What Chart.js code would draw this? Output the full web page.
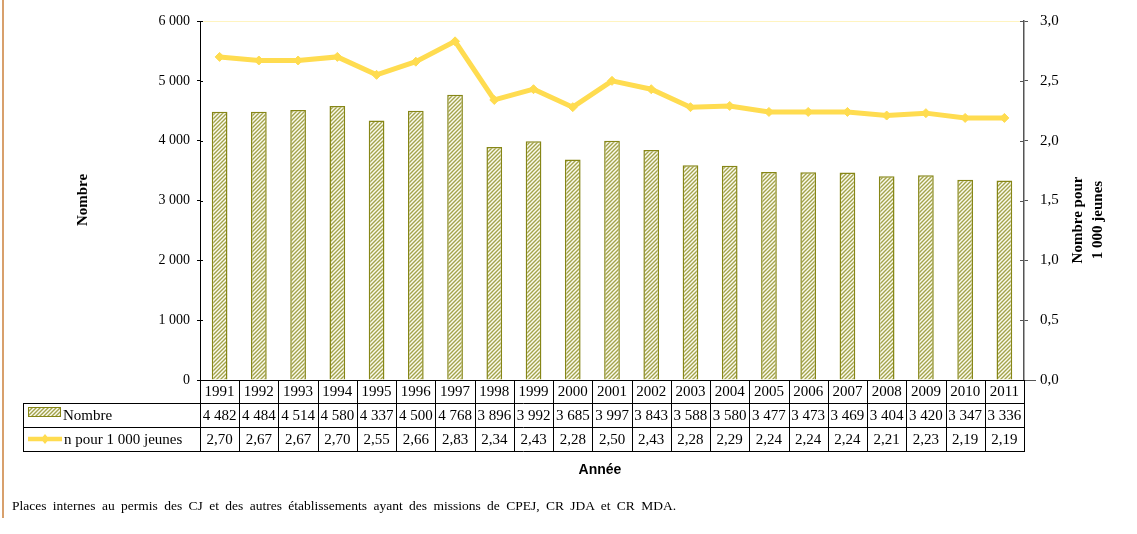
<!DOCTYPE html>
<html>
<head>
<meta charset="utf-8">
<script src="https://cdn.jsdelivr.net/npm/chart.js@4/dist/chart.umd.min.js"></script>
<style>
  body { margin: 0; background: #fff; }
  #wrap { position: relative; width: 1137px; height: 534px; }
  #edge { position: absolute; left: 2px; top: 0; width: 2px; height: 518px; background: #d8a06c; }
  #note { position: absolute; left: 12px; top: 498px; font: 13.5px "Liberation Serif", serif; word-spacing: 3px; color: #000; white-space: nowrap; }
</style>
</head>
<body>
<div id="wrap">
  <canvas id="chartPlaces"></canvas>
  <div id="edge"></div>
  <div id="note">Places internes au permis des CJ et des autres établissements  ayant des missions de CPEJ, CR JDA et CR MDA.</div>
</div>
<script>
  'use strict';

  var years = ['1991', '1992', '1993', '1994', '1995', '1996', '1997', '1998', '1999', '2000',
    '2001', '2002', '2003', '2004', '2005', '2006', '2007', '2008', '2009', '2010', '2011'];
  var nombre = [4482, 4484, 4514, 4580, 4337, 4500, 4768, 3896, 3992, 3685,
    3997, 3843, 3588, 3580, 3477, 3473, 3469, 3404, 3420, 3347, 3336];
  var taux = [2.70, 2.67, 2.67, 2.70, 2.55, 2.66, 2.83, 2.34, 2.43, 2.28,
    2.50, 2.43, 2.28, 2.29, 2.24, 2.24, 2.24, 2.21, 2.23, 2.19, 2.19];
  var labelNombre = 'Nombre';
  var labelTaux = 'n pour 1 000 jeunes';

  var OLIVE = '#868616';
  var YELLOW = '#ffdc50';
  var SERIF = '"Liberation Serif", "Times New Roman", serif';

  function fmtMille(v) {
    return String(v).replace(/\B(?=(\d{3})+(?!\d))/g, ' ');
  }
  function fmtDec(v, n) {
    return v.toFixed(n).replace('.', ',');
  }

  // hatch fill for the bars
  function makeHatch() {
    var s = 4;
    var c = document.createElement('canvas');
    c.width = s; c.height = s;
    var g = c.getContext('2d');
    g.fillStyle = '#fbfbee';
    g.fillRect(0, 0, s, s);
    g.strokeStyle = '#a3a34c';
    g.lineWidth = 1.4;
    g.beginPath();
    g.moveTo(-1, s + 1); g.lineTo(s + 1, -1);
    g.moveTo(-1, 1); g.lineTo(1, -1);
    g.moveTo(s - 1, s + 1); g.lineTo(s + 1, s - 1);
    g.stroke();
    return g.createPattern(c, 'repeat');
  }
  var hatch = makeHatch();

  var tablePlugin = {
    id: 'tablePlugin',
    afterDraw: function (chart) {
      var c = chart.ctx;
      var a = chart.chartArea;
      var x = chart.scales.x;
      var y = chart.scales.y;
      var y1 = chart.scales.y1;
      var n = years.length;
      var w = (a.right - a.left) / n;
      var r0 = a.bottom, r1 = 403, r2 = 427, r3 = 451, tl = 23;
      c.save();

      // faint top line
      c.strokeStyle = '#fff4c0';
      c.lineWidth = 1;
      c.beginPath();
      c.moveTo(a.left, a.top + 0.5); c.lineTo(a.right, a.top + 0.5);
      c.stroke();

      // inward tick parts
      c.strokeStyle = '#000';
      c.beginPath();
      y.ticks.forEach(function (t) {
        var py = Math.round(y.getPixelForValue(t.value)) + 0.5;
        c.moveTo(a.left, py); c.lineTo(a.left + 3, py);
      });
      c.stroke();
      c.strokeStyle = '#555';
      c.beginPath();
      y1.ticks.forEach(function (t) {
        var py = Math.round(y1.getPixelForValue(t.value)) + 0.5;
        c.moveTo(a.right - 4, py); c.lineTo(a.right, py);
      });
      c.moveTo(a.right, r0 + 0.5); c.lineTo(a.right + 12, r0 + 0.5);
      c.stroke();

      // table grid
      c.strokeStyle = '#000';
      c.lineWidth = 1;
      c.beginPath();
      c.moveTo(a.left, r0 + 0.5); c.lineTo(a.right, r0 + 0.5);
      [r1, r2, r3].forEach(function (ry) {
        c.moveTo(tl, ry + 0.5); c.lineTo(a.right, ry + 0.5);
      });
      c.moveTo(tl + 0.5, r1); c.lineTo(tl + 0.5, r3 + 1);
      for (var i = 0; i <= n; i++) {
        var bx = Math.round(a.left + i * w) + 0.5;
        c.moveTo(bx, r0); c.lineTo(bx, r3 + 1);
      }
      c.stroke();

      // cell texts
      c.fillStyle = '#000';
      c.font = '15px ' + SERIF;
      c.textAlign = 'center';
      c.textBaseline = 'middle';
      for (var j = 0; j < n; j++) {
        var cx = x.getPixelForValue(j);
        c.fillText(years[j], cx, (r0 + r1) / 2 + 1);
        c.fillText(fmtMille(nombre[j]), cx, (r1 + r2) / 2 + 1);
        c.fillText(fmtDec(taux[j], 2), cx, (r2 + r3) / 2 + 1);
      }

      // legend keys
      c.fillStyle = hatch;
      c.fillRect(28, 407, 33, 10);
      c.strokeStyle = OLIVE;
      c.strokeRect(28.5, 407.5, 32, 9);
      c.strokeStyle = YELLOW;
      c.lineWidth = 4.5;
      c.beginPath();
      c.moveTo(28, 439); c.lineTo(62, 439);
      c.stroke();
      c.fillStyle = YELLOW;
      c.beginPath();
      c.moveTo(45, 434); c.lineTo(49, 439); c.lineTo(45, 444); c.lineTo(41, 439);
      c.closePath();
      c.fill();
      c.fillStyle = '#000';
      c.textAlign = 'left';
      c.fillText(labelNombre, 63, (r1 + r2) / 2 + 1);
      c.fillText(labelTaux, 64, (r2 + r3) / 2 + 1);

      // axis titles
      c.font = 'bold 15px ' + SERIF;
      c.textAlign = 'center';
      c.save();
      c.translate(83, 200);
      c.rotate(-Math.PI / 2);
      c.fillText('Nombre', 0, 0);
      c.restore();
      c.save();
      c.translate(1088, 220);
      c.rotate(-Math.PI / 2);
      c.fillText('Nombre pour', 0, -10);
      c.fillText('1 000 jeunes', 0, 10);
      c.restore();
      c.font = 'bold 14px "Liberation Sans", Arial, sans-serif';
      c.fillText('Année', 600, 470);
      c.restore();
    }
  };

  var ctx = document.getElementById('chartPlaces');

  new Chart(ctx, {
    data: {
      labels: years,
      datasets: [
        {
          type: 'line',
          label: labelTaux,
          data: taux,
          yAxisID: 'y1',
          borderColor: YELLOW,
          backgroundColor: YELLOW,
          borderWidth: 5,
          pointStyle: 'rectRot',
          pointRadius: 4.5,
          pointBorderWidth: 1,
          pointBorderColor: YELLOW,
          tension: 0,
          order: 0
        },
        {
          type: 'bar',
          label: labelNombre,
          data: nombre,
          yAxisID: 'y',
          backgroundColor: hatch,
          borderColor: OLIVE,
          borderWidth: 1.5,
          barPercentage: 0.4,
          categoryPercentage: 1,
          order: 1
        }
      ]
    },
    options: {
      responsive: true,
      maintainAspectRatio: false,
      animation: false,
      layout: {
        padding: { left: 0, right: 0, top: 20, bottom: 154 }
      },
      plugins: {
        legend: { display: false },
        tooltip: { enabled: false }
      },
      scales: {
        x: {
          display: false
        },
        y: {
          position: 'left',
          min: 0,
          max: 6000,
          afterFit: function (s) { s.width = 200; },
          ticks: {
            stepSize: 1000,
            color: '#000',
            padding: 7,
            font: { family: SERIF, size: 14 },
            callback: function (v) { return fmtMille(v); }
          },
          grid: { drawOnChartArea: false, tickLength: 3, tickColor: '#000' },
          border: { color: '#000', width: 1 }
        },
        y1: {
          position: 'right',
          min: 0,
          max: 3,
          afterFit: function (s) { s.width = 113; },
          ticks: {
            stepSize: 0.5,
            color: '#000',
            padding: 12,
            font: { family: SERIF, size: 15 },
            callback: function (v) { return fmtDec(v, 1); }
          },
          grid: { drawOnChartArea: false, tickLength: 4, tickColor: '#555' },
          border: { color: '#555', width: 1.5 }
        }
      }
    },
    plugins: [tablePlugin]
  });
</script>
</body>
</html>
